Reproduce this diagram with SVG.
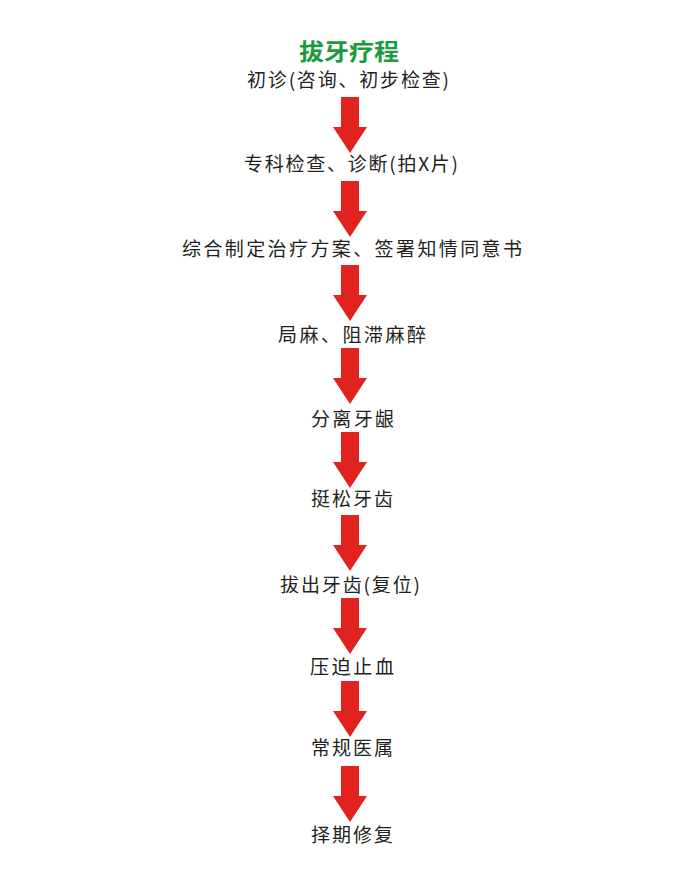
<svg xmlns="http://www.w3.org/2000/svg" width="700" height="875" viewBox="0 0 700 875">
<defs>
<style>
.t{font-family:"Noto Sans CJK SC","Noto Sans",sans-serif;font-size:19px;fill:#231f20;}
.title{font-family:"Noto Sans CJK SC","Noto Sans",sans-serif;font-size:23px;font-weight:bold;fill:#1b9a3e;}
.arr{fill:#e0231e;}
</style>
<path id="a" d="M341,0 L359,0 L359,30 L367,30 L350,56 L333,30 L341,30 Z"/>
</defs>
<rect width="700" height="875" fill="#ffffff"/>
<g id="title"><text class="title" x="299" y="60" textLength="100" lengthAdjust="spacingAndGlyphs">拔牙疗程</text></g>
<g id="n1"><text class="t" x="247" y="87" textLength="202" lengthAdjust="spacing">初诊(咨询、初步检查)</text></g>
<g id="n2"><text class="t" x="244" y="171" textLength="214" lengthAdjust="spacing">专科检查、诊断(拍X片)</text></g>
<g id="n3"><text class="t" x="182" y="256" textLength="340" lengthAdjust="spacing">综合制定治疗方案、签署知情同意书</text></g>
<g id="n4"><text class="t" x="278" y="342" textLength="148" lengthAdjust="spacing">局麻、阻滞麻醉</text></g>
<g id="n5"><text class="t" x="311" y="426" textLength="83" lengthAdjust="spacing">分离牙龈</text></g>
<g id="n6"><text class="t" x="311" y="506" textLength="82" lengthAdjust="spacing">挺松牙齿</text></g>
<g id="n7"><text class="t" x="280" y="592" textLength="140" lengthAdjust="spacing">拔出牙齿(复位)</text></g>
<g id="n8"><text class="t" x="310" y="674" textLength="84" lengthAdjust="spacing">压迫止血</text></g>
<g id="n9"><text class="t" x="311" y="755" textLength="82" lengthAdjust="spacing">常规医属</text></g>
<g id="n10"><text class="t" x="311" y="842" textLength="82" lengthAdjust="spacing">择期修复</text></g>
<g id="connectors" class="arr">
<use href="#a" y="97"/>
<use href="#a" y="181"/>
<use href="#a" y="265"/>
<use href="#a" y="348"/>
<use href="#a" y="432"/>
<use href="#a" y="515"/>
<use href="#a" y="598"/>
<use href="#a" y="681"/>
<use href="#a" y="766"/>
</g>
</svg>
